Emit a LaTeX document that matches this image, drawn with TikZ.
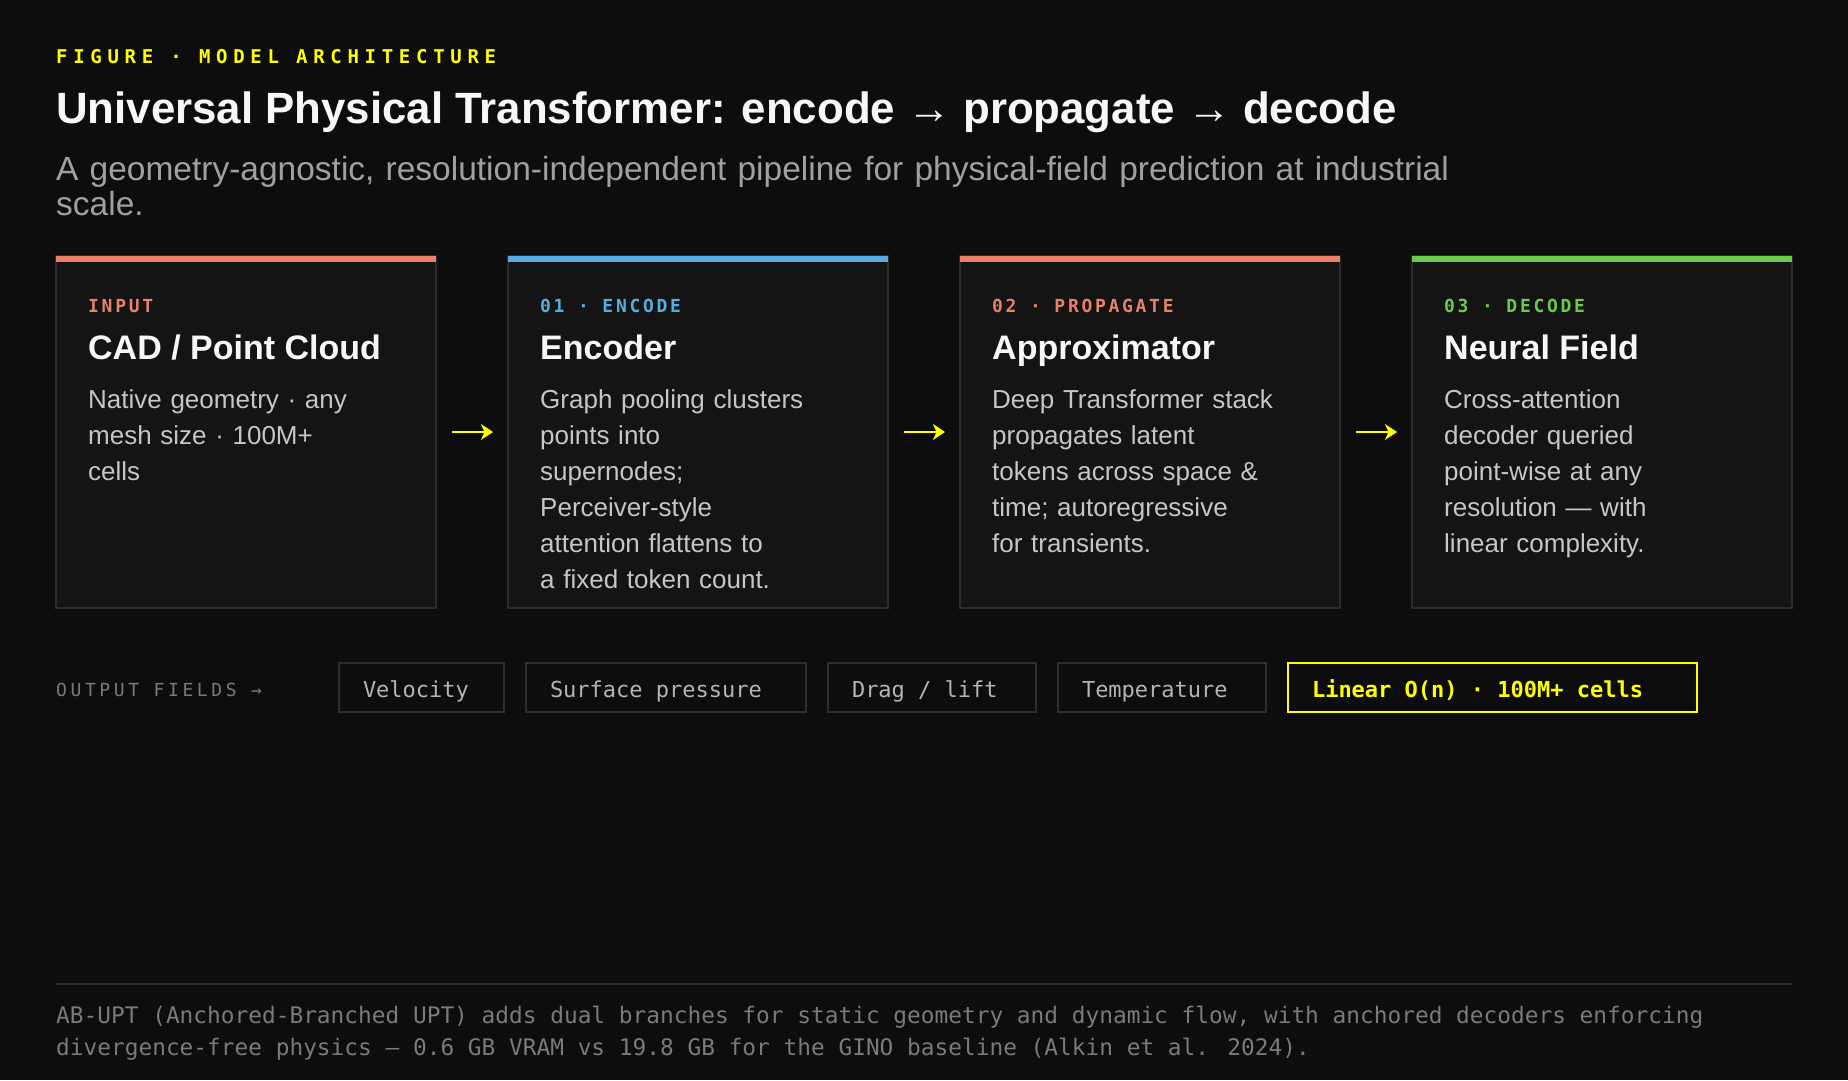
\documentclass[tikz,border=0pt]{standalone}
\usepackage{fontspec}
\setmainfont{Liberation Sans}
\newfontfamily\monofont{DejaVu Sans Mono}
\usetikzlibrary{positioning,arrows.meta}

\definecolor{bg}{HTML}{0D0D0D}
\definecolor{cardfill}{HTML}{141414}
\definecolor{cardline}{HTML}{2B2B2B}
\definecolor{chipline}{HTML}{2E2E2E}
\definecolor{salmon}{HTML}{E8806A}
\definecolor{skyblue}{HTML}{56ADE0}
\definecolor{leafgreen}{HTML}{6CCB4A}
\definecolor{signal}{HTML}{FFFF00}
\definecolor{headwhite}{HTML}{F7F7F7}
\definecolor{bodygray}{HTML}{C6C6C6}
\definecolor{subgray}{HTML}{A0A0A0}
\definecolor{dimgray}{HTML}{7A7A7A}
\definecolor{chiptext}{HTML}{B4B4B4}

\begin{document}
\begin{tikzpicture}[x=1pt, y=-1pt,
        card/.style={rectangle, draw=cardline, line width=1.5pt, fill=cardfill, minimum width=380pt, minimum height=352pt, inner sep=0pt, outer sep=0pt},
        tag/.style={inner sep=0pt, anchor=base west, font=\fontsize{18}{22}\monofont\bfseries\addfontfeature{LetterSpace=15}},
        head/.style={inner sep=0pt, anchor=base west, text=headwhite, font=\fontsize{34}{40}\selectfont\bfseries},
        body/.style={inner sep=0pt, anchor=base west, text=bodygray, text width=330pt, align=left, font=\fontsize{26}{36}\selectfont},
        chip/.style={rectangle, draw=chipline, line width=2pt, fill=bg, minimum height=49pt, inner xsep=24pt, inner ysep=0pt, outer sep=0pt, text height=22pt, text depth=3pt, text=chiptext, font=\fontsize{22}{24}\monofont},
        note/.style={inner sep=0pt, anchor=base west, text=dimgray, font=\fontsize{22.8}{32}\monofont},
        flow/.style={draw=signal, line width=2pt, -{Stealth[length=12pt,width=16pt,inset=3.5pt]}, shorten <=16pt, shorten >=15pt}]

        \useasboundingbox (0,0) rectangle (1848,1080);
        \fill[bg] (0,0) rectangle (1848,1080);

        % header
        \node[tag, text=signal, font=\fontsize{19}{22}\monofont\bfseries\addfontfeature{LetterSpace=30}] (eyebrow) at (56,63) {FIGURE · MODEL ARCHITECTURE};
        \node[inner sep=0pt, anchor=base west, text=headwhite, font=\fontsize{43.8}{50}\selectfont\bfseries] (title) at (56,123) {Universal Physical Transformer: encode → propagate → decode};
        \node[inner sep=0pt, anchor=base west, text=subgray, text width=1500pt, align=left, font=\fontsize{33.5}{35}\selectfont] (subtitle) at (56,180) {A geometry-agnostic, resolution-independent pipeline for physical-field prediction at industrial\\scale.};

        % pipeline cards
        \node[card, anchor=north west] (cad) at (56,256) {};
        \node[card, right=72pt of cad] (enc) {};
        \node[card, right=72pt of enc] (approx) {};
        \node[card, right=72pt of approx] (field) {};

        \fill[salmon] (cad.north west) rectangle ([yshift=-6pt]cad.north east);
        \fill[skyblue] (enc.north west) rectangle ([yshift=-6pt]enc.north east);
        \fill[salmon] (approx.north west) rectangle ([yshift=-6pt]approx.north east);
        \fill[leafgreen] (field.north west) rectangle ([yshift=-6pt]field.north east);

        \node[tag, text=salmon] (cad-tag) at ([xshift=32pt,yshift=-56pt]cad.north west) {INPUT};
        \node[head] (cad-head) at ([xshift=32pt,yshift=-103pt]cad.north west) {CAD / Point Cloud};
        \node[body] (cad-body) at ([xshift=32pt,yshift=-152pt]cad.north west) {Native geometry · any\\mesh size · 100M+\\cells};

        \node[tag, text=skyblue] (enc-tag) at ([xshift=32pt,yshift=-56pt]enc.north west) {01 · ENCODE};
        \node[head] (enc-head) at ([xshift=32pt,yshift=-103pt]enc.north west) {Encoder};
        \node[body] (enc-body) at ([xshift=32pt,yshift=-152pt]enc.north west) {Graph pooling clusters\\points into\\supernodes;\\Perceiver-style\\attention flattens to\\a fixed token count.};

        \node[tag, text=salmon] (approx-tag) at ([xshift=32pt,yshift=-56pt]approx.north west) {02 · PROPAGATE};
        \node[head] (approx-head) at ([xshift=32pt,yshift=-103pt]approx.north west) {Approximator};
        \node[body] (approx-body) at ([xshift=32pt,yshift=-152pt]approx.north west) {Deep Transformer stack\\propagates latent\\tokens across space \&\\time; autoregressive\\for transients.};

        \node[tag, text=leafgreen] (field-tag) at ([xshift=32pt,yshift=-56pt]field.north west) {03 · DECODE};
        \node[head] (field-head) at ([xshift=32pt,yshift=-103pt]field.north west) {Neural Field};
        \node[body] (field-body) at ([xshift=32pt,yshift=-152pt]field.north west) {Cross-attention\\decoder queried\\point-wise at any\\resolution — with\\linear complexity.};

        \path[flow] (cad) -- (enc);
        \path[flow] (enc) -- (approx);
        \path[flow] (approx) -- (field);

        % output fields
        \node[tag, text=dimgray, font=\fontsize{18}{22}\monofont\addfontfeature{LetterSpace=20}] (outlabel) at (56,696) {OUTPUT FIELDS →};
        \node[chip, anchor=west] (velocity) at (339,687.5) {\makebox[117pt][l]{Velocity}};
        \node[chip, right=22pt of velocity] (pressure) {\makebox[232pt][l]{Surface pressure}};
        \node[chip, right=22pt of pressure] (drag) {\makebox[160pt][l]{Drag / lift}};
        \node[chip, right=22pt of drag] (temp) {\makebox[160pt][l]{Temperature}};
        \node[chip, draw=signal, text=signal, right=22pt of temp, font=\fontsize{22}{24}\monofont\bfseries] (scaling) {\makebox[361pt][l]{Linear O(n) · 100M+ cells}};

        % footnote
        \draw[cardline, line width=1.5pt] (56,984) -- (1792,984);
        \node[note] (note-a) at (56,1023) {AB-UPT (Anchored-Branched UPT) adds dual branches for static geometry and dynamic flow, with anchored decoders enforcing};
        \node[note] (note-b) at (56,1055) {divergence-free physics — 0.6 GB VRAM vs 19.8 GB for the GINO baseline (Alkin et al. 2024).};
    \end{tikzpicture}
\end{document}
